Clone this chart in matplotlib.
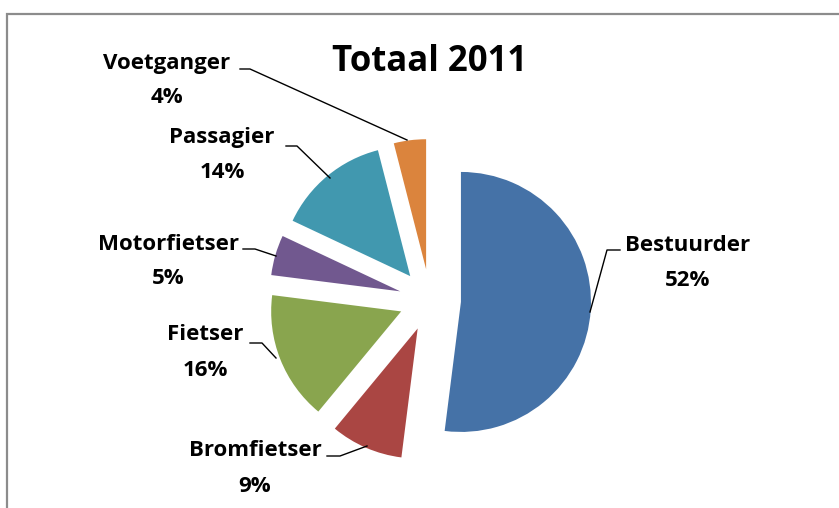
import matplotlib
matplotlib.use("Agg")
import matplotlib.pyplot as plt
from matplotlib.patches import Rectangle

categories = ["Bestuurder", "Bromfietser", "Fietser", "Motorfietser", "Passagier", "Voetganger"]
values = [52, 9, 16, 5, 14, 4]
colors = ["#4572A7", "#AA4643", "#89A54E", "#71588F", "#4198AF", "#DB843D"]
title = "Totaal 2011"

W, H = 839, 508
fig = plt.figure(figsize=(W / 100, H / 100), dpi=100)
ax = fig.add_axes([0, 0, 1, 1])

# border
fig.patches.append(Rectangle((7 / W, -0.1), 1.2, (H - 14) / H + 0.1, transform=fig.transFigure,
                             fill=False, edgecolor="#8c8c8c", linewidth=1.6))

# pie (y axis inverted -> counterclock=True with startangle=-90 draws clockwise from top on screen)
cx, cy, R = 430, 300, 130
wedges, _ = ax.pie(values, colors=colors, startangle=-90, counterclock=True,
                   radius=R, center=(cx, cy), explode=[31] * len(values),
                   wedgeprops=dict(linewidth=0), frame=True)
ax.set_xlim(0, W)
ax.set_ylim(H, 0)
ax.set_aspect("equal")
ax.axis("off")

font = dict(family="Open Sans", weight="bold", fontsize=16, color="black")
ax.text(430, 62, title, ha="center", va="center", family="Open Sans", weight="bold", fontsize=25)

dy = 2.5
labels = [
    # text x, name y, pct y, leader points
    (688, 243, 278, [(620, 250), (607, 250), (590, 312)]),
    (255, 448, 484, [(327, 456), (340, 456), (367, 446)]),
    (205, 332, 368, [(250, 343), (262, 343), (276, 358)]),
    (168, 242, 276, [(243, 249), (255, 249), (276, 256)]),
    (222, 135, 170, [(286, 146), (297, 146), (330, 178)]),
    (167, 61, 95, [(240, 69), (250, 69), (407, 140)]),
]
for name, v, (tx, ny, py, pts) in zip(categories, values, labels):
    ax.text(tx, ny + dy, name, ha="center", va="center", **font)
    ax.text(tx, py + dy, f"{v}%", ha="center", va="center", **font)
    xs, ys = zip(*pts)
    ax.plot(xs, ys, color="black", linewidth=1.0)

fig.savefig("out.png", dpi=100)
